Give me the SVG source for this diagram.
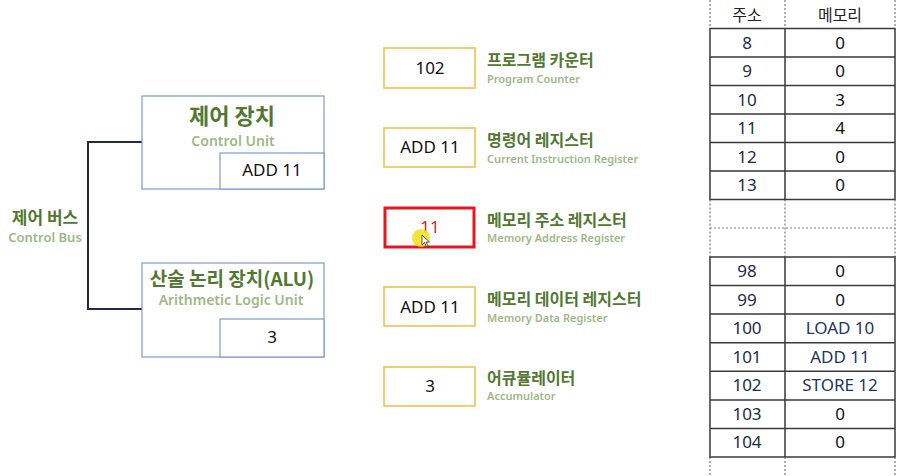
<svg xmlns="http://www.w3.org/2000/svg" width="916" height="476" viewBox="0 0 916 476">
<style>
.kt{font-family:"Noto Sans CJK KR","Noto Sans",sans-serif;font-weight:700;fill:#527832}
.et{font-family:"Noto Sans","Noto Sans CJK KR",sans-serif;font-weight:600;fill:#9db886}
.val{font-family:"Noto Sans","Liberation Sans",sans-serif;font-size:17px;fill:#111;text-anchor:middle}
.unit{fill:#fff;stroke:#7a9cc6;stroke-width:1.2}
.reg{fill:#fff;stroke:#f0c24e;stroke-width:1.6}
.cell{font-family:"Noto Sans","Noto Sans CJK KR",sans-serif;font-size:17px;text-anchor:middle}
.addr{fill:#1c2b4a}
.mem{fill:#111}
.navy{fill:#22355e}
.tl{stroke:#3a3a3a;stroke-width:1.5;fill:none}
.td{stroke:#7a7a7a;stroke-width:1.2;stroke-dasharray:2 2;fill:none}
</style>

<g id="connectors">
  <path d="M142 142 H88 V309 H142" fill="none" stroke="#1f2a48" stroke-width="2"/>
</g>

<g id="control-bus-label">
  <text class="kt" x="45" y="224" font-size="17" text-anchor="middle">제어 버스</text>
  <text class="et" x="45" y="242" font-size="13" text-anchor="middle">Control Bus</text>
</g>

<g id="control-unit">
  <rect class="unit" x="142" y="96" width="182" height="93"/>
  <rect class="unit" x="220" y="153" width="104" height="36"/>
  <text class="kt" x="232" y="124" font-size="22" text-anchor="middle">제어 장치</text>
  <text class="et" x="233" y="146" font-size="14" text-anchor="middle">Control Unit</text>
  <text class="val" x="272" y="176">ADD 11</text>
</g>

<g id="alu">
  <rect class="unit" x="142" y="263" width="182" height="94"/>
  <rect class="unit" x="220" y="319" width="104" height="38"/>
  <text class="kt" x="232" y="286" font-size="19" text-anchor="middle">산술 논리 장치(ALU)</text>
  <text class="et" x="231" y="305" font-size="14" text-anchor="middle">Arithmetic Logic Unit</text>
  <text class="val" x="272" y="343">3</text>
</g>

<g id="program-counter">
  <rect class="reg" x="384" y="48" width="91" height="40"/>
  <text class="val" x="430" y="74">102</text>
  <text class="kt" x="487" y="66" font-size="16">프로그램 카운터</text>
  <text class="et" x="487" y="83" font-size="11">Program Counter</text>
</g>

<g id="instruction-register">
  <rect class="reg" x="384" y="128" width="91" height="39"/>
  <text class="val" x="430" y="153">ADD 11</text>
  <text class="kt" x="487" y="146" font-size="16">명령어 레지스터</text>
  <text class="et" x="487" y="163" font-size="11">Current Instruction Register</text>
</g>

<g id="memory-address-register">
  <rect x="385" y="208" width="89" height="39" fill="#fff" stroke="#e8161c" stroke-width="3"/>
  <text class="val" x="430" y="233" style="fill:#d42a22">11</text>
  <text class="kt" x="487" y="226" font-size="16">메모리 주소 레지스터</text>
  <text class="et" x="487" y="242" font-size="11">Memory Address Register</text>
  <circle cx="421" cy="238" r="9" fill="#f3df1a" fill-opacity="0.85"/>
  <path d="M422 235 L422 245 L424.5 242.5 L426.5 247 L428 246.3 L426 242 L429.5 242 Z" fill="#fff" stroke="#333" stroke-width="0.8"/>
</g>

<g id="memory-data-register">
  <rect class="reg" x="384" y="287" width="91" height="39"/>
  <text class="val" x="430" y="313">ADD 11</text>
  <text class="kt" x="487" y="305" font-size="16">메모리 데이터 레지스터</text>
  <text class="et" x="487" y="322" font-size="11">Memory Data Register</text>
</g>

<g id="accumulator">
  <rect class="reg" x="384" y="367" width="91" height="39"/>
  <text class="val" x="430" y="392">3</text>
  <text class="kt" x="487" y="384" font-size="16">어큐뮬레이터</text>
  <text class="et" x="487" y="400" font-size="11">Accumulator</text>
</g>

<g id="memory-table">
  <path class="td" d="M710 0 V28.5 M785 0 V28.5 M895 0 V28.5"/>
  <path class="td" d="M710 199.5 V257 M785 199.5 V257 M895 199.5 V257 M710 228 H895"/>
  <path class="td" d="M710 457 V476 M785 457 V476 M895 457 V476"/>
  <text class="cell" x="747" y="21" style="font-family:'Noto Sans CJK KR',sans-serif;font-size:16px;fill:#222">주소</text>
  <text class="cell" x="840" y="21" style="font-family:'Noto Sans CJK KR',sans-serif;font-size:16px;fill:#222">메모리</text>
  <rect class="tl" x="710" y="28.5" width="185" height="171"/>
  <path class="tl" d="M785 28.5 V199.5 M710 57 H895 M710 85.5 H895 M710 114 H895 M710 142.5 H895 M710 171 H895"/>
  <text class="cell addr" x="747" y="48.5">8</text><text class="cell mem" x="840" y="48.5">0</text>
  <text class="cell addr" x="747" y="77">9</text><text class="cell mem" x="840" y="77">0</text>
  <text class="cell addr" x="747" y="105.5">10</text><text class="cell mem" x="840" y="105.5">3</text>
  <text class="cell addr" x="747" y="134">11</text><text class="cell mem" x="840" y="134">4</text>
  <text class="cell addr" x="747" y="162.5">12</text><text class="cell mem" x="840" y="162.5">0</text>
  <text class="cell addr" x="747" y="191">13</text><text class="cell mem" x="840" y="191">0</text>
  <rect class="tl" x="710" y="257" width="185" height="200"/>
  <path class="tl" d="M785 257 V457 M710 285.6 H895 M710 314.1 H895 M710 342.7 H895 M710 371.3 H895 M710 399.9 H895 M710 428.4 H895"/>
  <text class="cell addr" x="747" y="277">98</text><text class="cell mem" x="840" y="277">0</text>
  <text class="cell addr" x="747" y="305.6">99</text><text class="cell mem" x="840" y="305.6">0</text>
  <text class="cell addr" x="747" y="334.1">100</text><text class="cell navy" x="840" y="334.1">LOAD 10</text>
  <text class="cell addr" x="747" y="362.7">101</text><text class="cell navy" x="840" y="362.7">ADD 11</text>
  <text class="cell addr" x="747" y="391.3">102</text><text class="cell navy" x="840" y="391.3">STORE 12</text>
  <text class="cell addr" x="747" y="419.9">103</text><text class="cell mem" x="840" y="419.9">0</text>
  <text class="cell addr" x="747" y="448.4">104</text><text class="cell mem" x="840" y="448.4">0</text>
</g>
</svg>
